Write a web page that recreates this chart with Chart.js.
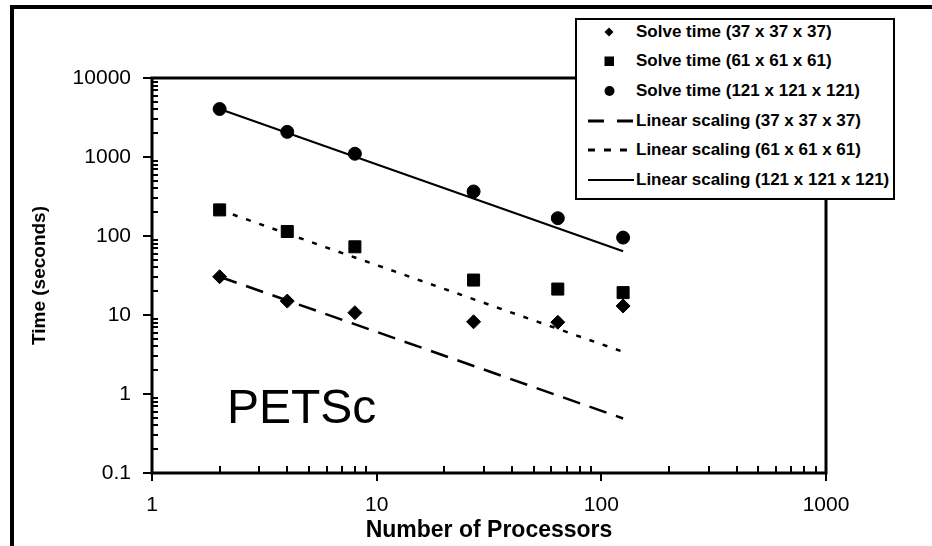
<!DOCTYPE html>
<html lang="en">
<head>
  <meta charset="UTF-8" />
  <title>PETSc – Solve time vs. number of processors</title>
  <script src="https://cdn.jsdelivr.net/npm/chart.js"></script>
  <style>
    html, body { margin: 0; padding: 0; background: #fff; overflow: hidden; }
    body {
      width: 932px;
      height: 546px;
      position: relative;
      font-family: Arial, 'Liberation Sans', sans-serif;
    }
    .frame {
      position: absolute;
      left: 10px;
      top: 5px;
      width: 2000px;
      height: 2000px;
      border: 4px solid #000;
    }
    .wrap {
      position: absolute;
      left: 0;
      top: 0;
      width: 932px;
      height: 546px;
    }
    #legend {
      position: absolute;
      left: 575px;
      top: 18px;
      width: 320px;
      height: 182px;
      box-sizing: border-box;
      border: 2px solid #000;
      background: #fff;
    }
    #legend .rows { position: absolute; left: 0; top: -3px; }
    #legend .row {
      height: 29.6px;
      display: flex;
      align-items: center;
      white-space: nowrap;
    }
    #legend svg { margin-left: 11px; width: 47px; height: 16px; flex: none; }
    #legend span { margin-left: 1px; font-weight: bold; font-size: 17px; color: #000; }
  </style>
</head>
<body>
  <div class="frame"></div>
  <div class="wrap"><canvas id="chart" width="932" height="546"></canvas></div>
  <div id="legend"><div class="rows"></div></div>

  <script>
    // values
    const processors = [2, 4, 8, 27, 64, 125];
    const solve37  = [30.5, 15, 10.7, 8.2, 8.1, 13];
    const solve61  = [214, 114, 73, 27.7, 21.3, 19.2];
    const solve121 = [4050, 2080, 1100, 366, 168, 95.5];

    const linearX   = [2, 125];
    const linear37  = [30.5, 0.49];
    const linear61  = [214, 3.42];
    const linear121 = [4050, 64];

    const seriesLabels = [
      'Solve time (37 x 37 x 37)',
      'Solve time (61 x 61 x 61)',
      'Solve time (121 x 121 x 121)',
      'Linear scaling (37 x 37 x 37)',
      'Linear scaling (61 x 61 x 61)',
      'Linear scaling (121 x 121 x 121)'
    ];
    const xTitle = 'Number of Processors';
    const yTitle = 'Time (seconds)';
    const petscLabel = 'PETSc';

    const toXY = (xs, ys) => xs.map((x, i) => ({ x, y: ys[i] }));

    function isPow10(v) {
      const l = Math.log10(v);
      return Math.abs(l - Math.round(l)) < 1e-9;
    }
    function isMinor(v) {
      const e = Math.floor(Math.log10(v) + 1e-9);
      const s = v / Math.pow(10, e);
      const r = Math.round(s);
      return Math.abs(s - r) < 1e-6 && r > 1 && r < 10;
    }
    function fmt(v) {
      if (!isPow10(v)) return '';
      return v < 1 ? v.toFixed(1) : String(Math.round(v));
    }

    const markerBase = { showLine: false, borderColor: '#000', backgroundColor: '#000', borderWidth: 1, order: 0 };
    const lineBase = { showLine: true, borderColor: '#000', backgroundColor: '#000', pointRadius: 0, order: 1 };

    const datasets = [
      { ...markerBase, label: seriesLabels[0], data: toXY(processors, solve37),  pointStyle: 'rectRot', pointRadius: 7 },
      { ...markerBase, label: seriesLabels[1], data: toXY(processors, solve61),  pointStyle: 'rect',    pointRadius: 8.5 },
      { ...markerBase, label: seriesLabels[2], data: toXY(processors, solve121), pointStyle: 'circle',  pointRadius: 6.5 },
      { ...lineBase, label: seriesLabels[3], data: toXY(linearX, linear37),  borderWidth: 2.5, borderDash: [18, 10] },
      { ...lineBase, label: seriesLabels[4], data: toXY(linearX, linear61),  borderWidth: 2.5, borderDash: [5, 9] },
      { ...lineBase, label: seriesLabels[5], data: toXY(linearX, linear121), borderWidth: 2 }
    ];

    // plot frame, inside minor ticks and the PETSc tag
    const framePlugin = {
      id: 'frame',
      beforeDatasetsDraw(chart) {
        const { ctx, chartArea: a, scales } = chart;
        ctx.save();
        ctx.strokeStyle = '#000';
        ctx.lineWidth = 3;
        ctx.strokeRect(a.left, a.top, a.right - a.left, a.bottom - a.top);

        ctx.lineWidth = 2;
        ctx.beginPath();
        scales.x.ticks.forEach(t => {
          if (!isMinor(t.value)) return;
          const px = Math.round(scales.x.getPixelForValue(t.value));
          ctx.moveTo(px, a.bottom);
          ctx.lineTo(px, a.bottom - 7);
        });
        scales.y.ticks.forEach(t => {
          if (!isMinor(t.value)) return;
          const py = Math.round(scales.y.getPixelForValue(t.value));
          ctx.moveTo(a.left, py);
          ctx.lineTo(a.left + 6, py);
        });
        ctx.stroke();

        ctx.fillStyle = '#000';
        ctx.font = '48px Arial, "Liberation Sans", sans-serif';
        ctx.textBaseline = 'alphabetic';
        ctx.fillText(petscLabel, a.left + 75, a.bottom - 50);
        ctx.restore();
      }
    };

    const majorTick = c => (c.tick && isPow10(c.tick.value)) ? '#000' : 'rgba(0,0,0,0)';

    Chart.defaults.font.family = "Arial, 'Liberation Sans', sans-serif";
    Chart.defaults.color = '#000';

    const chart = new Chart(document.getElementById('chart'), {
      type: 'scatter',
      data: { datasets },
      options: {
        responsive: false,
        animation: false,
        layout: { padding: { left: 0, right: 106, top: 78, bottom: 0 } },
        plugins: { legend: { display: false }, tooltip: { enabled: false } },
        scales: {
          x: {
            type: 'logarithmic',
            position: 'bottom',
            min: 1,
            max: 1000,
            border: { display: false },
            grid: { drawOnChartArea: false, drawTicks: true, tickLength: 8, lineWidth: 2, color: majorTick },
            ticks: { autoSkip: false, maxRotation: 0, padding: 12, font: { size: 21 }, callback: v => fmt(v) },
            title: { display: true, text: xTitle, font: { size: 23, weight: 'bold' }, padding: { top: 0, bottom: 2 } },
            afterFit: s => { s.height = 73; }
          },
          y: {
            type: 'logarithmic',
            position: 'left',
            min: 0.1,
            max: 10000,
            border: { display: false },
            grid: { drawOnChartArea: false, drawTicks: true, tickLength: 9, lineWidth: 2, color: majorTick },
            ticks: { autoSkip: false, padding: 12, font: { size: 21 }, callback: v => fmt(v) },
            title: { display: true, text: yTitle, font: { size: 19, weight: 'bold' }, padding: { top: 28, bottom: 0 } },
            afterFit: s => { s.width = 152; }
          }
        }
      },
      plugins: [framePlugin]
    });

    // html legend built from the datasets
    function legendSymbol(ds) {
      let inner = '';
      if (ds.showLine) {
        const dash = ds.borderDash ? ` stroke-dasharray="${ds.borderDash[0] === 18 ? '16 13' : '7 9'}"` : '';
        const w = ds.borderDash ? 3 : 2;
        inner = `<line x1="0" y1="8" x2="46" y2="8" stroke="#000" stroke-width="${w}"${dash}/>`;
      } else if (ds.pointStyle === 'rectRot') {
        inner = '<polygon points="21,3.5 25.5,8 21,12.5 16.5,8" fill="#000"/>';
      } else if (ds.pointStyle === 'rect') {
        inner = '<rect x="16.5" y="3.5" width="9.5" height="9.5" fill="#000"/>';
      } else {
        inner = '<circle cx="21.5" cy="8" r="5" fill="#000"/>';
      }
      return `<svg viewBox="0 0 47 16">${inner}</svg>`;
    }

    document.querySelector('#legend .rows').innerHTML = chart.data.datasets
      .map(ds => `<div class="row">${legendSymbol(ds)}<span>${ds.label}</span></div>`)
      .join('');
  </script>
</body>
</html>
